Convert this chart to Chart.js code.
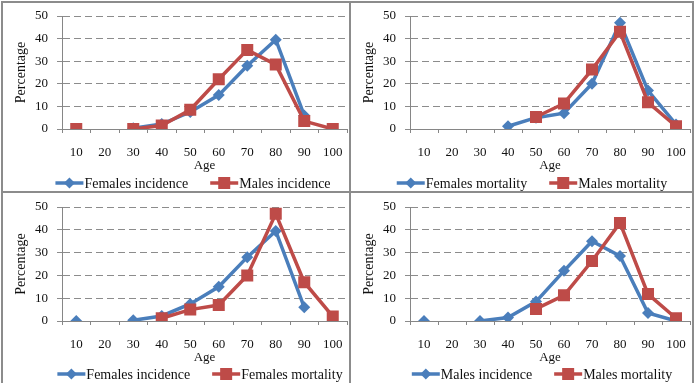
<!DOCTYPE html>
<html><head><meta charset="utf-8">
<script src="https://cdn.jsdelivr.net/npm/chart.js@4"></script>
<style>
html,body{margin:0;padding:0;background:#fff;width:700px;height:383px;overflow:hidden}
canvas{position:absolute}
.l{position:absolute;background:#8c8c8c}
</style></head><body>
<canvas id="c1" width="346" height="188" style="left:3px;top:3px"></canvas>
<canvas id="c2" width="341" height="188" style="left:351px;top:3px"></canvas>
<canvas id="c3" width="346" height="189" style="left:3px;top:194px"></canvas>
<canvas id="c4" width="341" height="189" style="left:351px;top:194px"></canvas>
<div class="l" style="left:1px;top:1px;width:693px;height:2px"></div>
<div class="l" style="left:1px;top:1px;width:2px;height:383px"></div>
<div class="l" style="left:692px;top:1px;width:2px;height:383px"></div>
<div class="l" style="left:349px;top:1px;width:2px;height:383px"></div>
<div class="l" style="left:1px;top:191px;width:693px;height:2px"></div>
<script>
const ages = ['10','20','30','40','50','60','70','80','90','100'];
const femalesIncidence = [0, null, 0.3, 2.2, 7.5, 15, 28, 39.5, 6, null];
const malesIncidence = [0, null, 0, 1.5, 8.5, 22, 35, 28.5, 3.5, 0];
const femalesMortality = [null, null, null, 1.2, 5, 7, 20, 47, 17, 2];
const malesMortality = [null, null, null, null, 5.3, 11.3, 26.3, 43, 11.8, 1.2];
const yTicks = [0, 10, 20, 30, 40, 50];

const BLUE = '#4a7ebb';
const RED = '#be4b48';
const FONT = "'Liberation Serif', 'Times New Roman', serif";

function drawMarker(ctx, style, x, y, color) {
  ctx.fillStyle = color;
  if (style === 'rectRot') {
    ctx.beginPath(); ctx.moveTo(x, y - 5.5); ctx.lineTo(x + 5.5, y); ctx.lineTo(x, y + 5.5); ctx.lineTo(x - 5.5, y); ctx.closePath(); ctx.fill();
  } else {
    ctx.fillRect(x - 6, y - 6, 12, 12);
  }
}

const customLegend = {
  id: 'customLegend',
  afterDraw(chart, args, opts) {
    const ctx = chart.ctx;
    ctx.save();
    ctx.font = '14px ' + FONT;
    ctx.textBaseline = 'middle';
    ctx.textAlign = 'left';
    const iconW = 28, gap = 22;
    const items = chart.data.datasets.map(d => ({ d, w: iconW + 1 + ctx.measureText(d.label).width }));
    const total = items.reduce((s, i) => s + i.w, 0) + gap * (items.length - 1);
    let x = opts.cx - total / 2;
    const y = opts.y;
    items.forEach(it => {
      const d = it.d;
      ctx.strokeStyle = d.borderColor; ctx.lineWidth = 3.5;
      ctx.beginPath(); ctx.moveTo(x, y); ctx.lineTo(x + iconW, y); ctx.stroke();
      drawMarker(ctx, d.pointStyle, x + iconW / 2, y, d.borderColor);
      ctx.fillStyle = '#111';
      ctx.fillText(d.label, x + iconW + 1, y + 1);
      x += it.w + gap;
    });
    ctx.restore();
  }
};

function series(label, data, color, shape) {
  const isD = shape === 'diamond';
  return {
    label, data,
    borderColor: color, backgroundColor: color,
    borderWidth: 3.5,
    pointStyle: isD ? 'rectRot' : 'rect',
    pointRadius: isD ? 6 : 8.5,
    pointBorderWidth: 0,
    pointBackgroundColor: color,
    spanGaps: false,
    tension: 0,
    order: isD ? 1 : 0
  };
}

function panel(id, a, b, cx) {
  new Chart(document.getElementById(id), {
    type: 'line',
    data: { labels: ages, datasets: [a, b] },
    plugins: [customLegend],
    options: {
      responsive: false, animation: false, events: [],
      layout: { autoPadding: false, padding: { top: 13, right: 2, left: 0, bottom: 18 } },
      plugins: {
        tooltip: { enabled: false },
        legend: { display: false },
        customLegend: { cx: cx, y: 180 }
      },
      scales: {
        x: {
          type: 'category', offset: true,
          grid: { display: true, drawOnChartArea: false, offset: true, tickLength: 4, color: '#868686' },
          border: { color: '#868686', width: 1 },
          ticks: { color: '#111', font: { family: FONT, size: 13 }, padding: 12, maxRotation: 0, autoSkip: false },
          title: { display: true, text: 'Age', color: '#111', font: { family: FONT, size: 13 }, padding: { top: 0, bottom: 0 } },
          afterFit: (s) => { s.height = 44; s.paddingLeft = 0; s.paddingRight = 0; }
        },
        y: {
          min: 0, max: 50,
          afterBuildTicks: (s) => { s.ticks = yTicks.map(v => ({ value: v })); },
          grid: { color: '#8c8c8c', tickLength: 5, tickBorderDash: [], drawTicks: true },
          border: { color: '#868686', dash: [7, 4], width: 1 },
          ticks: { color: '#111', font: { family: FONT, size: 13 }, padding: 9 },
          title: { display: true, text: 'Percentage', color: '#111', font: { family: FONT, size: 14 }, padding: { top: 10, bottom: 0 } },
          afterFit: (s) => { s.width = 59; s.paddingTop = 0; s.paddingBottom = 0; }
        }
      }
    }
  });
}

panel('c1', series('Females incidence', femalesIncidence, BLUE, 'diamond'), series('Males incidence', malesIncidence, RED, 'square'), 190);
panel('c2', series('Females mortality', femalesMortality, BLUE, 'diamond'), series('Males mortality', malesMortality, RED, 'square'), 181);
panel('c3', series('Females incidence', femalesIncidence, BLUE, 'diamond'), series('Females mortality', femalesMortality, RED, 'square'), 197);
panel('c4', series('Males incidence', malesIncidence, BLUE, 'diamond'), series('Males mortality', malesMortality, RED, 'square'), 191);
</script>
</body></html>
